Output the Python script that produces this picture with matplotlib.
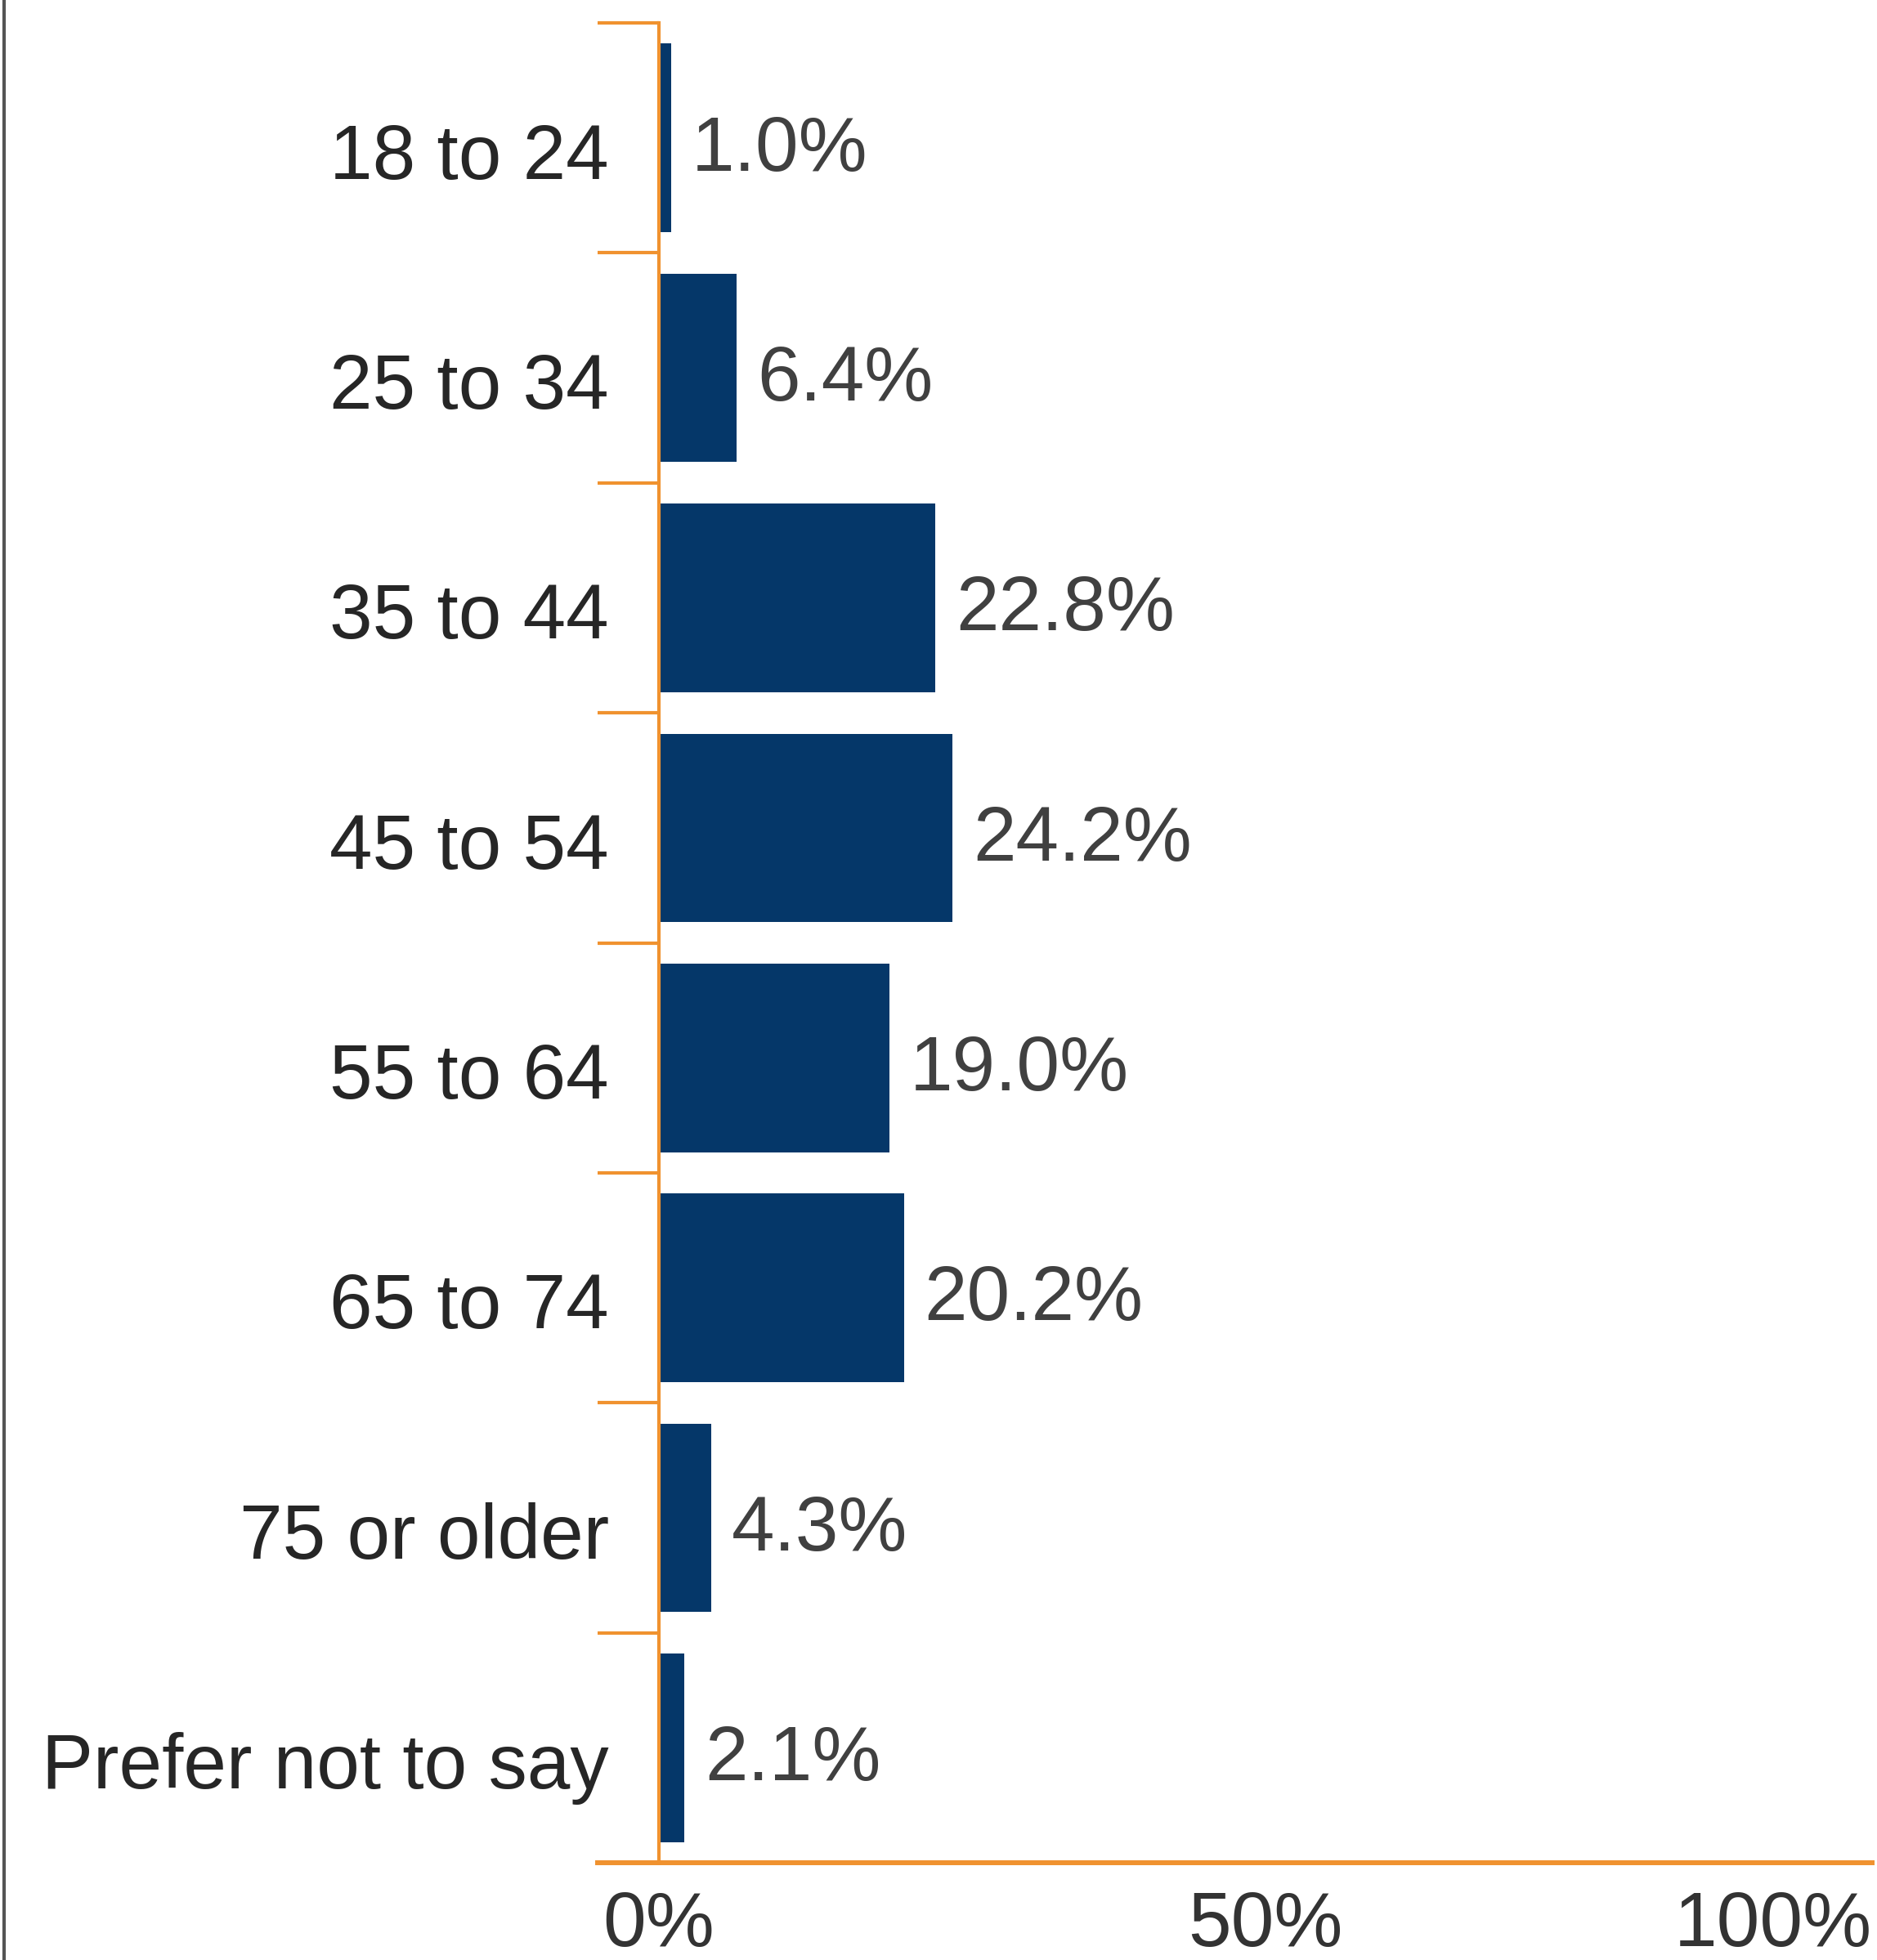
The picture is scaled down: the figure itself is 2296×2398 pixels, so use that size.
import matplotlib.pyplot as plt
from matplotlib.lines import Line2D
from matplotlib.ticker import FixedLocator
from matplotlib.transforms import ScaledTranslation

plt.rcParams['font.family'] = ['Liberation Sans', 'DejaVu Sans']

ages = ['18 to 24', '25 to 34', '35 to 44', '45 to 54', '55 to 64',
        '65 to 74', '75 or older', 'Prefer not to say']
shares = [1.0, 6.4, 22.8, 24.2, 19.0, 20.2, 4.3, 2.1]
xticks = [0, 50, 100]
xticklabels = ['0%', '50%', '100%']

orange = '#f0922f'
navy = '#053769'

fig = plt.figure(figsize=(22.96, 23.98), dpi=100)
ax = fig.add_axes([0.351, 0.0496, 0.9974 - 0.351, 0.9883 - 0.0496])

pos = list(range(len(ages)))
ax.barh(pos, shares, height=0.82, color=navy)
for y, v in zip(pos, shares):
    ax.annotate(f'{v:.1f}%', (v, y), xytext=(18, -11), textcoords='offset points',
                ha='left', va='center', fontsize=68, color='#404040')

ax.set_xlim(0, 100)
ax.set_ylim(len(ages) - 0.5, -0.5)

ax.set_yticks(pos)
ax.set_yticklabels(ages, fontsize=68, color='#262626')
ax.tick_params(axis='y', which='major', length=0, pad=44)
# nudge the category names down a little
shift = ScaledTranslation(0, -11 / 72, fig.dpi_scale_trans)
for lbl in ax.get_yticklabels():
    lbl.set_transform(lbl.get_transform() + shift)

ax.yaxis.set_minor_locator(FixedLocator([i - 0.5 for i in range(len(ages))]))
ax.tick_params(axis='y', which='minor', length=54, width=3, color=orange)

ax.set_xticks(xticks)
ax.set_xticklabels(xticklabels, fontsize=68, color='#333333')
ax.tick_params(axis='x', length=0, pad=24)
ax.get_xticklabels()[-1].set_ha('right')

for s in ['top', 'right', 'bottom']:
    ax.spines[s].set_visible(False)
ax.spines['left'].set_color(orange)
ax.spines['left'].set_linewidth(3)

# baseline runs a little past the y axis on the left
ax.axhline(len(ages) - 0.5, xmin=-0.0505, xmax=1, color=orange, lw=4.3, clip_on=False)

# thin frame line on the left edge of the figure
fig.add_artist(Line2D([0.0022, 0.0022], [0, 1], transform=fig.transFigure,
                      color='#555555', lw=3))

fig.savefig('out.png', dpi=100, facecolor='white')
